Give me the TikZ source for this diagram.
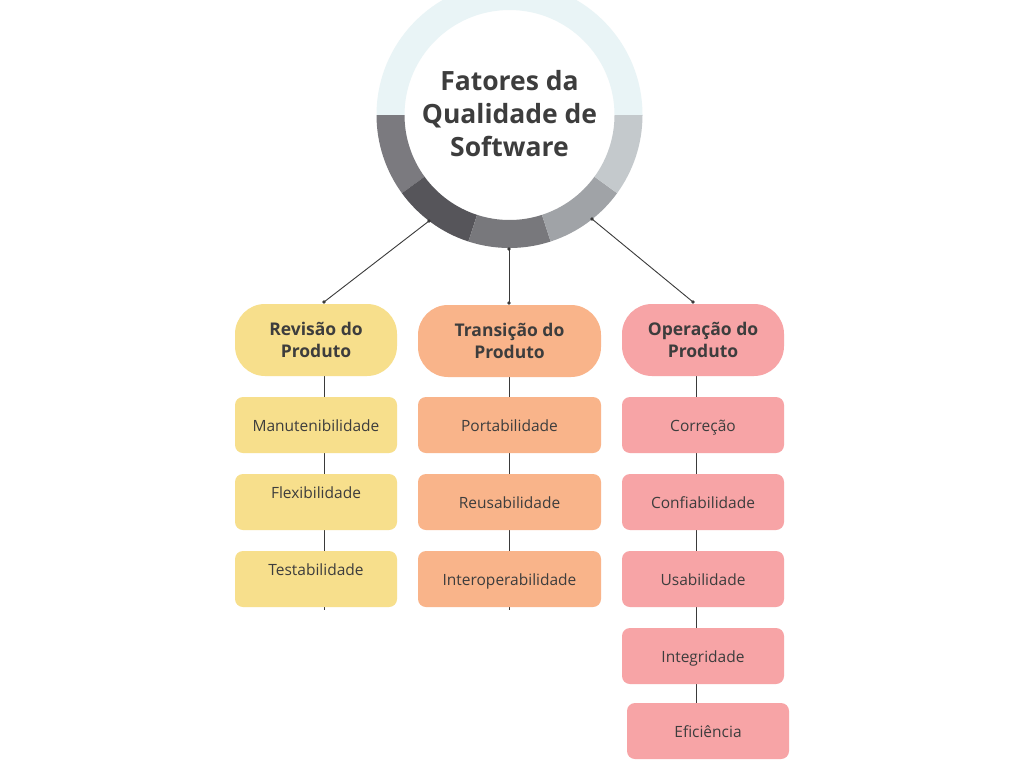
\documentclass[tikz,border=0pt]{standalone}
\usepackage{fontspec}
\setmainfont{Open Sans}
\definecolor{txt}{HTML}{3D3D3D}
\definecolor{ringtop}{HTML}{E9F4F6}
\definecolor{ringa}{HTML}{7B7A7F}
\definecolor{ringb}{HTML}{56555A}
\definecolor{ringc}{HTML}{78787C}
\definecolor{ringd}{HTML}{A0A3A7}
\definecolor{ringe}{HTML}{C4C9CC}
\definecolor{yel}{HTML}{F7DF8C}
\definecolor{ora}{HTML}{F9B48A}
\definecolor{pnk}{HTML}{F7A4A6}
\definecolor{wire}{HTML}{3A3A3A}
\tikzset{
  head/.style={rounded corners=30pt, minimum width=162pt, minimum height=72pt, inner sep=0pt, align=center, text=txt, font=\bfseries\fontsize{17.5}{22}\selectfont},
  subbox/.style={rounded corners=8pt, minimum width=162pt, minimum height=56pt, inner sep=0pt},
  subtxt/.style={text=txt, inner sep=0pt, text height=11pt, text depth=3pt, yshift=-2pt, font=\fontsize{15.5}{18}\selectfont},
  wireline/.style={draw=wire, line width=0.9pt},
  dotend/.style={circle, fill=wire, inner sep=0pt, minimum size=3.6pt},
}
\newcommand{\ringseg}[3]{\fill[#3] (#1:133pt) arc[start angle=#1, end angle=#2, radius=133pt] -- (#2:105pt) arc[start angle=#2, end angle=#1, radius=105pt] -- cycle;}
\begin{document}
\begin{tikzpicture}[x=1pt,y=-1pt]
\useasboundingbox (0,0) rectangle (1024,768);
\fill[white] (0,0) rectangle (1024,768);
% ring
\begin{scope}[shift={(509.5,115)}]
\ringseg{0}{180}{ringtop}
\ringseg{180}{216}{ringa}
\ringseg{216}{252}{ringb}
\ringseg{252}{288}{ringc}
\ringseg{288}{324}{ringd}
\ringseg{324}{360}{ringe}
\end{scope}
\node[align=center, text=txt, font=\bfseries\fontsize{26.5}{33}\selectfont] (title) at (509.5,114) {Fatores da\\Qualidade de\\Software};
% ring anchor points
\coordinate (r1) at (429,221);
\coordinate (r2) at (509,249);
\coordinate (r3) at (592,219);
\coordinate (h1) at (324,302);
\coordinate (h2) at (509,303);
\coordinate (h3) at (693,302);
% vertical spines
\coordinate (ya) at (324,376);
\coordinate (yb) at (324,610);
\coordinate (oa) at (509,377);
\coordinate (ob) at (509,610);
\coordinate (pa) at (696,376);
\coordinate (pb) at (696,703);
\draw[wireline] (ya) -- (yb);
\draw[wireline] (oa) -- (ob);
\draw[wireline] (pa) -- (pb);
% connectors from ring
\draw[wireline] (r1) -- (h1);
\draw[wireline] (r2) -- (h2);
\draw[wireline] (r3) -- (h3);
\foreach \p in {r1,r2,r3,h1,h2,h3} \node[dotend] at (\p) {};
% headers
\node[head, fill=yel] (rev) at (316,340) {Revisão do\\Produto};
\node[head, fill=ora, minimum width=183pt] (tra) at (509.5,341) {Transição do\\Produto};
\node[head, fill=pnk] (ope) at (703,340) {Operação do\\Produto};
% yellow column
\node[subbox, fill=yel] (y1) at (316,425) {};
\node[subbox, fill=yel] (y2) at (316,502) {};
\node[subbox, fill=yel] (y3) at (316,579) {};
\node[subtxt] at (316,425) {Manutenibilidade};
\node[subtxt] at (316,492) {Flexibilidade};
\node[subtxt] at (316,569) {Testabilidade};
% orange column
\node[subbox, fill=ora, minimum width=183pt] (o1) at (509.5,425) {};
\node[subbox, fill=ora, minimum width=183pt] (o2) at (509.5,502) {};
\node[subbox, fill=ora, minimum width=183pt] (o3) at (509.5,579) {};
\node[subtxt] at (509.5,425) {Portabilidade};
\node[subtxt] at (509.5,502) {Reusabilidade};
\node[subtxt] at (509.5,579) {Interoperabilidade};
% pink column
\node[subbox, fill=pnk] (p1) at (703,425) {};
\node[subbox, fill=pnk] (p2) at (703,502) {};
\node[subbox, fill=pnk] (p3) at (703,579) {};
\node[subbox, fill=pnk] (p4) at (703,656) {};
\node[subbox, fill=pnk] (p5) at (708,731) {};
\node[subtxt] at (703,425) {Correção};
\node[subtxt] at (703,502) {Confiabilidade};
\node[subtxt] at (703,579) {Usabilidade};
\node[subtxt] at (703,656) {Integridade};
\node[subtxt] at (708,731) {Eficiência};
\end{tikzpicture}
\end{document}
